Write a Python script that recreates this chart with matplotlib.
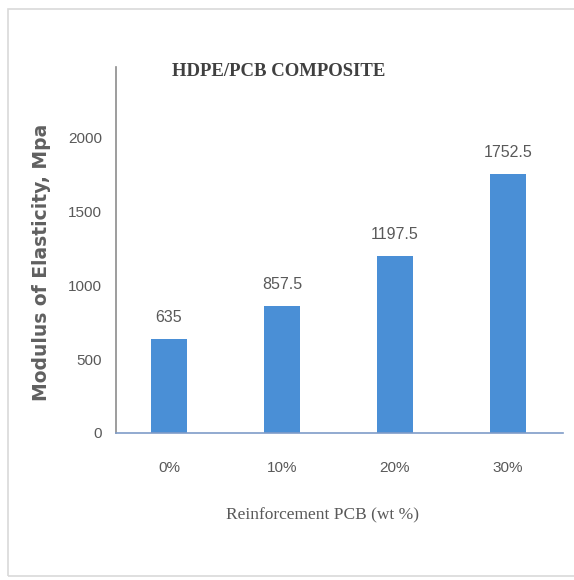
import numpy as np
import matplotlib
matplotlib.use("Agg")
import matplotlib.pyplot as plt
from matplotlib.patches import Rectangle

# modulus of elasticity for each PCB loading
categories = ["0%", "10%", "20%", "30%"]
modulus = [635, 857.5, 1197.5, 1752.5]
value_labels = ["635", "857.5", "1197.5", "1752.5"]
yticks = [0, 500, 1000, 1500, 2000]

sans = "Liberation Sans"
grey = "#595959"
blue = "#4a8fd6"

fig = plt.figure(figsize=(5.74, 5.80), dpi=100)
# chart frame
fig.patches.append(Rectangle((8 / 574, 4 / 580), 570 / 574, 567 / 580,
                             transform=fig.transFigure, fill=False,
                             edgecolor="#d9d9d9", linewidth=1.2))

ax = fig.add_axes([116 / 574, (580 - 433) / 580, (563 - 116) / 574, (433 - 67) / 580])
x = np.arange(len(categories))
ax.bar(x, modulus, width=0.32, color=blue)
for xi, v, lab in zip(x, modulus, value_labels):
    ax.text(xi, v + 95, lab, ha="center", va="bottom", fontsize=11.5,
            family=sans, color=grey)

ax.set_xlim(-0.47, 3.49)
ax.set_ylim(0, 2475)
ax.set_xticks(x)
ax.set_xticklabels(categories, family=sans, fontsize=11, color=grey)
ax.set_yticks(yticks)
ax.set_yticklabels([str(t) for t in yticks], family=sans, fontsize=11, color=grey)
ax.tick_params(axis="x", length=0, pad=20)
ax.tick_params(axis="y", length=0, pad=10)

for s in ["top", "right"]:
    ax.spines[s].set_visible(False)
ax.spines["left"].set_color("#8c8c8c")
ax.spines["bottom"].set_color("#7f9cc8")
ax.spines["left"].set_linewidth(1.2)
ax.spines["bottom"].set_linewidth(1.2)

fig.text(279 / 574, 1 - 71 / 580, "HDPE/PCB COMPOSITE", ha="center", va="center",
         family="Liberation Serif", fontweight="bold", fontsize=13.5, color="#404040")
fig.text(42 / 574, 1 - 262 / 580, "Modulus of Elasticity, Mpa", rotation=90,
         ha="center", va="center", fontsize=13.5, fontweight="bold", color="#606060")
fig.text(323 / 574, 1 - 515 / 580, "Reinforcement PCB (wt %)", ha="center", va="center",
         family="Liberation Serif", fontsize=12.5, color=grey)

plt.savefig("out.png", dpi=100)
